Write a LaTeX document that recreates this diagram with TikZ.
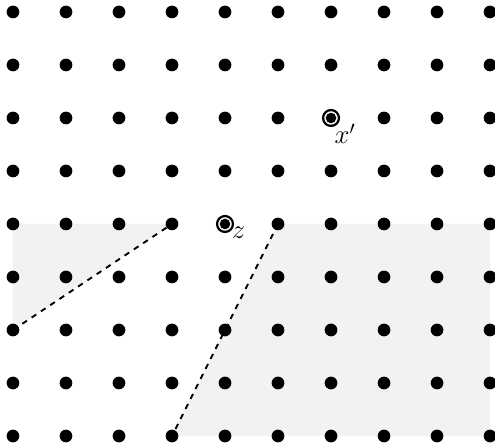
\documentclass[tikz,border=0pt]{standalone}
\begin{document}
\begin{tikzpicture}[x=1cm,y=1cm,
  gridpt/.style={circle,fill=black,inner sep=0pt,minimum size=0.24cm},
  ringpt/.style={circle,draw=black,line width=1.2pt,fill=white,inner sep=0pt,minimum size=0.30cm,
    path picture={\fill[black] (path picture bounding box.center) circle (0.1cm);}},
  region/.style={fill=gray!10,draw=none},
  cut/.style={dashed,line width=1pt}]
\useasboundingbox (-0.245,0.226) rectangle (9.094,-8.208);
% shaded regions
\fill[region] (0,-4) -- (3,-4) -- (0,-6) -- cycle;
\fill[region] (5,-4) -- (9,-4) -- (9,-8) -- (3,-8) -- cycle;
% grid of points
\foreach \i in {0,...,9}{
  \foreach \j in {0,...,8}{
    \coordinate (g-\i-\j) at (\i,-\j);
  }
}
\draw[cut] (g-0-6) -- (g-3-4);
\draw[cut] (g-5-4) -- (g-3-8);
\foreach \i in {0,...,9}{
  \foreach \j in {0,...,8}{
    \ifnum\i=4 \ifnum\j=4 \else \node[gridpt] (p-\i-\j) at (g-\i-\j) {};\fi
    \else\ifnum\i=6 \ifnum\j=2 \else \node[gridpt] (p-\i-\j) at (g-\i-\j) {};\fi
    \else \node[gridpt] (p-\i-\j) at (g-\i-\j) {};\fi\fi
  }
}
\node[ringpt] (z) at (g-4-4) {};
\node[ringpt] (xp) at (g-6-2) {};
\node[anchor=north west,inner sep=0pt,font=\Large] (zl) at ([xshift=0.0cm,yshift=0.08cm]z.south east) {$z$};
\node[anchor=north west,inner sep=0pt,font=\Large] (xl) at ([xshift=-0.06cm,yshift=0.02cm]xp.south east) {$x'$};
\end{tikzpicture}
\end{document}
